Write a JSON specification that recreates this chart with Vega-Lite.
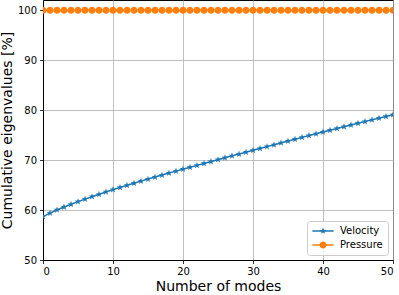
{
  "$schema": "https://vega.github.io/schema/vega-lite/v6.json",
  "width": 350,
  "height": 260,
  "autosize": {"type": "none"},
  "padding": {"left": 43, "top": 0, "right": 6, "bottom": 35},
  "config": {
    "font": "DejaVu Sans",
    "view": {"stroke": "black", "strokeWidth": 1},
    "axis": {
      "domainColor": "black", "domainWidth": 1,
      "tickColor": "black", "tickSize": 3.5, "tickWidth": 0.8,
      "labelFont": "DejaVu Sans", "labelFontSize": 10, "labelColor": "black",
      "titleFont": "DejaVu Sans", "titleFontSize": 14, "titleFontWeight": "normal", "titleColor": "black",
      "gridColor": "#b0b0b0", "gridWidth": 0.8, "gridOpacity": 1
    },
    "legend": {
      "labelFont": "DejaVu Sans", "labelFontSize": 10, "labelColor": "black"
    }
  },
  "data": {"values": [
    {"x":0,"value":58.70,"series":"Velocity"},{"x":1,"value":59.40,"series":"Velocity"},{"x":2,"value":60.02,"series":"Velocity"},{"x":3,"value":60.60,"series":"Velocity"},{"x":4,"value":61.15,"series":"Velocity"},{"x":5,"value":61.68,"series":"Velocity"},{"x":6,"value":62.19,"series":"Velocity"},{"x":7,"value":62.68,"series":"Velocity"},{"x":8,"value":63.16,"series":"Velocity"},{"x":9,"value":63.63,"series":"Velocity"},{"x":10,"value":64.09,"series":"Velocity"},
    {"x":11,"value":64.52,"series":"Velocity"},{"x":12,"value":64.95,"series":"Velocity"},{"x":13,"value":65.37,"series":"Velocity"},{"x":14,"value":65.79,"series":"Velocity"},{"x":15,"value":66.20,"series":"Velocity"},{"x":16,"value":66.61,"series":"Velocity"},{"x":17,"value":67.01,"series":"Velocity"},{"x":18,"value":67.41,"series":"Velocity"},{"x":19,"value":67.80,"series":"Velocity"},{"x":20,"value":68.19,"series":"Velocity"},
    {"x":21,"value":68.57,"series":"Velocity"},{"x":22,"value":68.95,"series":"Velocity"},{"x":23,"value":69.33,"series":"Velocity"},{"x":24,"value":69.71,"series":"Velocity"},{"x":25,"value":70.09,"series":"Velocity"},{"x":26,"value":70.47,"series":"Velocity"},{"x":27,"value":70.85,"series":"Velocity"},{"x":28,"value":71.22,"series":"Velocity"},{"x":29,"value":71.59,"series":"Velocity"},{"x":30,"value":71.96,"series":"Velocity"},
    {"x":31,"value":72.33,"series":"Velocity"},{"x":32,"value":72.70,"series":"Velocity"},{"x":33,"value":73.07,"series":"Velocity"},{"x":34,"value":73.44,"series":"Velocity"},{"x":35,"value":73.81,"series":"Velocity"},{"x":36,"value":74.18,"series":"Velocity"},{"x":37,"value":74.55,"series":"Velocity"},{"x":38,"value":74.91,"series":"Velocity"},{"x":39,"value":75.27,"series":"Velocity"},{"x":40,"value":75.63,"series":"Velocity"},
    {"x":41,"value":75.98,"series":"Velocity"},{"x":42,"value":76.33,"series":"Velocity"},{"x":43,"value":76.68,"series":"Velocity"},{"x":44,"value":77.03,"series":"Velocity"},{"x":45,"value":77.38,"series":"Velocity"},{"x":46,"value":77.72,"series":"Velocity"},{"x":47,"value":78.06,"series":"Velocity"},{"x":48,"value":78.40,"series":"Velocity"},{"x":49,"value":78.74,"series":"Velocity"},{"x":50,"value":79.08,"series":"Velocity"},
    {"x":0,"value":100,"series":"Pressure"},{"x":1,"value":100,"series":"Pressure"},{"x":2,"value":100,"series":"Pressure"},{"x":3,"value":100,"series":"Pressure"},{"x":4,"value":100,"series":"Pressure"},{"x":5,"value":100,"series":"Pressure"},{"x":6,"value":100,"series":"Pressure"},{"x":7,"value":100,"series":"Pressure"},{"x":8,"value":100,"series":"Pressure"},{"x":9,"value":100,"series":"Pressure"},{"x":10,"value":100,"series":"Pressure"},
    {"x":11,"value":100,"series":"Pressure"},{"x":12,"value":100,"series":"Pressure"},{"x":13,"value":100,"series":"Pressure"},{"x":14,"value":100,"series":"Pressure"},{"x":15,"value":100,"series":"Pressure"},{"x":16,"value":100,"series":"Pressure"},{"x":17,"value":100,"series":"Pressure"},{"x":18,"value":100,"series":"Pressure"},{"x":19,"value":100,"series":"Pressure"},{"x":20,"value":100,"series":"Pressure"},
    {"x":21,"value":100,"series":"Pressure"},{"x":22,"value":100,"series":"Pressure"},{"x":23,"value":100,"series":"Pressure"},{"x":24,"value":100,"series":"Pressure"},{"x":25,"value":100,"series":"Pressure"},{"x":26,"value":100,"series":"Pressure"},{"x":27,"value":100,"series":"Pressure"},{"x":28,"value":100,"series":"Pressure"},{"x":29,"value":100,"series":"Pressure"},{"x":30,"value":100,"series":"Pressure"},
    {"x":31,"value":100,"series":"Pressure"},{"x":32,"value":100,"series":"Pressure"},{"x":33,"value":100,"series":"Pressure"},{"x":34,"value":100,"series":"Pressure"},{"x":35,"value":100,"series":"Pressure"},{"x":36,"value":100,"series":"Pressure"},{"x":37,"value":100,"series":"Pressure"},{"x":38,"value":100,"series":"Pressure"},{"x":39,"value":100,"series":"Pressure"},{"x":40,"value":100,"series":"Pressure"},
    {"x":41,"value":100,"series":"Pressure"},{"x":42,"value":100,"series":"Pressure"},{"x":43,"value":100,"series":"Pressure"},{"x":44,"value":100,"series":"Pressure"},{"x":45,"value":100,"series":"Pressure"},{"x":46,"value":100,"series":"Pressure"},{"x":47,"value":100,"series":"Pressure"},{"x":48,"value":100,"series":"Pressure"},{"x":49,"value":100,"series":"Pressure"},{"x":50,"value":100,"series":"Pressure"}
  ]},
  "encoding": {
    "x": {"field": "x", "type": "quantitative", "title": "Number of modes",
      "scale": {"domain": [0, 50], "nice": false, "zero": false},
      "axis": {"values": [0, 10, 20, 30, 40, 50], "labelPadding": 3, "titlePadding": 3}},
    "y": {"field": "value", "type": "quantitative", "title": "Cumulative eigenvalues [%]",
      "scale": {"domain": [50, 102.06], "nice": false, "zero": false},
      "axis": {"values": [50, 60, 70, 80, 90, 100], "labelPadding": 3, "titlePadding": 3}}
  },
  "layer": [
    {
      "mark": {"type": "line", "strokeWidth": 1.5, "clip": true},
      "encoding": {"color": {"field": "series", "type": "nominal", "legend": null,
        "scale": {"domain": ["Velocity", "Pressure"], "range": ["#1f77b4", "#ff7f0e"]}}}
    },
    {
      "mark": {"type": "point", "filled": true, "opacity": 1, "size": 50, "clip": true},
      "encoding": {
        "color": {"field": "series", "type": "nominal", "legend": null,
          "scale": {"domain": ["Velocity", "Pressure"], "range": ["#1f77b4", "#ff7f0e"]}},
        "shape": {"field": "series", "type": "nominal", "legend": null,
          "scale": {"domain": ["Velocity", "Pressure"], "range": [
            "M0,-1L0.235,-0.324L0.951,-0.309L0.38,0.124L0.588,0.809L0,0.4L-0.588,0.809L-0.38,0.124L-0.951,-0.309L-0.235,-0.324Z",
            "M-1,0A1,1 0 1,1 1,0A1,1 0 1,1 -1,0Z"]}}
      }
    },
    {
      "mark": {"type": "point", "filled": true, "opacity": 0, "size": 50},
      "encoding": {
        "color": {"field": "series", "type": "nominal",
          "scale": {"domain": ["Velocity", "Pressure"], "range": ["#1f77b4", "#ff7f0e"]},
          "legend": {"title": null, "orient": "bottom-right", "offset": 5,
            "symbolOpacity": 1, "symbolSize": 50, "symbolOffset": 6, "labelOffset": 12,
            "fillColor": "rgba(255,255,255,0.8)", "strokeColor": "#cccccc", "cornerRadius": 3,
            "padding": 5, "rowPadding": 4, "symbolStrokeWidth": 0}},
        "shape": {"field": "series", "type": "nominal",
          "scale": {"domain": ["Velocity", "Pressure"], "range": [
            "M-3,-0.2L3,-0.2L3,0.2L-3,0.2ZM0,-1L0.235,-0.324L0.951,-0.309L0.38,0.124L0.588,0.809L0,0.4L-0.588,0.809L-0.38,0.124L-0.951,-0.309L-0.235,-0.324Z",
            "M-3,-0.2L3,-0.2L3,0.2L-3,0.2ZM-1,0A1,1 0 1,1 1,0A1,1 0 1,1 -1,0Z"]},
          "legend": {"title": null, "orient": "bottom-right", "offset": 5,
            "symbolOpacity": 1, "symbolSize": 50, "symbolOffset": 6, "labelOffset": 12,
            "fillColor": "rgba(255,255,255,0.8)", "strokeColor": "#cccccc", "cornerRadius": 3,
            "padding": 5, "rowPadding": 4, "symbolStrokeWidth": 0}}
      }
    }
  ],
  "resolve": {"scale": {"shape": "independent", "color": "independent"}, "legend": {"shape": "independent", "color": "independent"}}
}
